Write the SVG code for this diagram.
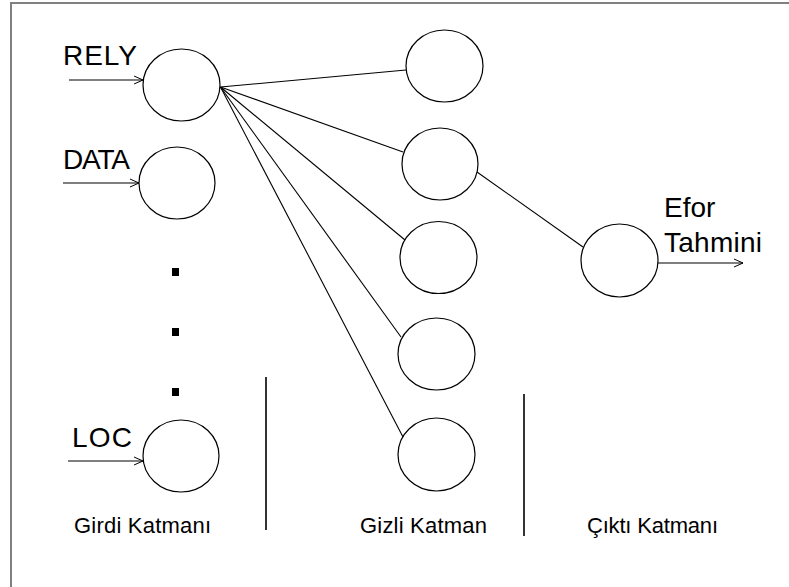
<svg xmlns="http://www.w3.org/2000/svg" width="789" height="587" viewBox="0 0 789 587">
<style>
.node{fill:none;stroke:#000;stroke-width:1.2}
.edge{stroke:#000;stroke-width:1.1;fill:none}
.big{font-family:"Liberation Sans",Arial,sans-serif;font-size:28px;fill:#000}
.lbl{font-family:"Liberation Sans",Arial,sans-serif;font-size:22px;fill:#000}
.sep{stroke:#000;stroke-width:1.6}
</style>
<defs>
<marker id="arr" viewBox="0 0 10 10" refX="10" refY="5" markerWidth="10" markerHeight="10" markerUnits="userSpaceOnUse" orient="auto">
<path d="M1,1 L10,5 L1,9" fill="none" stroke="#000" stroke-width="1"/>
</marker>
</defs>
<rect width="789" height="587" fill="#fff"/>
<path d="M11,587 V3 H789" fill="none" stroke="#808080" stroke-width="2"/>
<g id="connectors">
<line class="edge" x1="69" y1="80" x2="143" y2="80" marker-end="url(#arr)"/>
<line class="edge" x1="63" y1="183" x2="139" y2="183" marker-end="url(#arr)"/>
<line class="edge" x1="68" y1="461" x2="143" y2="461" marker-end="url(#arr)"/>
<line class="edge" x1="220.5" y1="87" x2="406" y2="70"/>
<line class="edge" x1="220.5" y1="87" x2="403" y2="152"/>
<line class="edge" x1="220.5" y1="87" x2="405" y2="240"/>
<line class="edge" x1="220.5" y1="87" x2="401" y2="337"/>
<line class="edge" x1="220.5" y1="87" x2="403" y2="437"/>
<line class="edge" x1="477" y1="172" x2="583" y2="247"/>
<line class="edge" x1="658" y1="263" x2="743" y2="263" marker-end="url(#arr)"/>
</g>
<g id="in-rely"><ellipse class="node" cx="181.5" cy="85" rx="38.5" ry="36"/><text class="big" x="63" y="65" textLength="74">RELY</text></g>
<g id="in-data"><ellipse class="node" cx="177" cy="183" rx="38" ry="36"/><text class="big" x="63" y="169" textLength="67">DATA</text></g>
<g id="dots"><rect x="172" y="268" width="7" height="8"/><rect x="172" y="328" width="7" height="8"/><rect x="172" y="388" width="7" height="8"/></g>
<g id="in-loc"><ellipse class="node" cx="181" cy="456" rx="38" ry="36"/><text class="big" x="72" y="447" textLength="60">LOC</text></g>
<g id="h1"><ellipse class="node" cx="444.5" cy="66" rx="38.5" ry="36"/></g>
<g id="h2"><ellipse class="node" cx="440" cy="164" rx="38" ry="36"/></g>
<g id="h3"><ellipse class="node" cx="438.5" cy="257.5" rx="38.5" ry="36"/></g>
<g id="h4"><ellipse class="node" cx="436.5" cy="354" rx="38.5" ry="36"/></g>
<g id="h5"><ellipse class="node" cx="436.5" cy="454.5" rx="38.5" ry="36.5"/></g>
<g id="out"><ellipse class="node" cx="619.5" cy="260.5" rx="38.5" ry="36.5"/><text class="big" x="664" y="217">Efor</text><text class="big" x="664" y="252" textLength="98">Tahmini</text></g>
<g id="layers">
<line class="sep" x1="266" y1="377" x2="266" y2="530"/>
<line class="sep" x1="524" y1="394" x2="524" y2="536"/>
<text class="lbl" x="74" y="533" textLength="137">Girdi Katmanı</text>
<text class="lbl" x="360" y="533" textLength="127">Gizli Katman</text>
<text class="lbl" x="587" y="533" textLength="131">Çıktı Katmanı</text>
</g>
</svg>
